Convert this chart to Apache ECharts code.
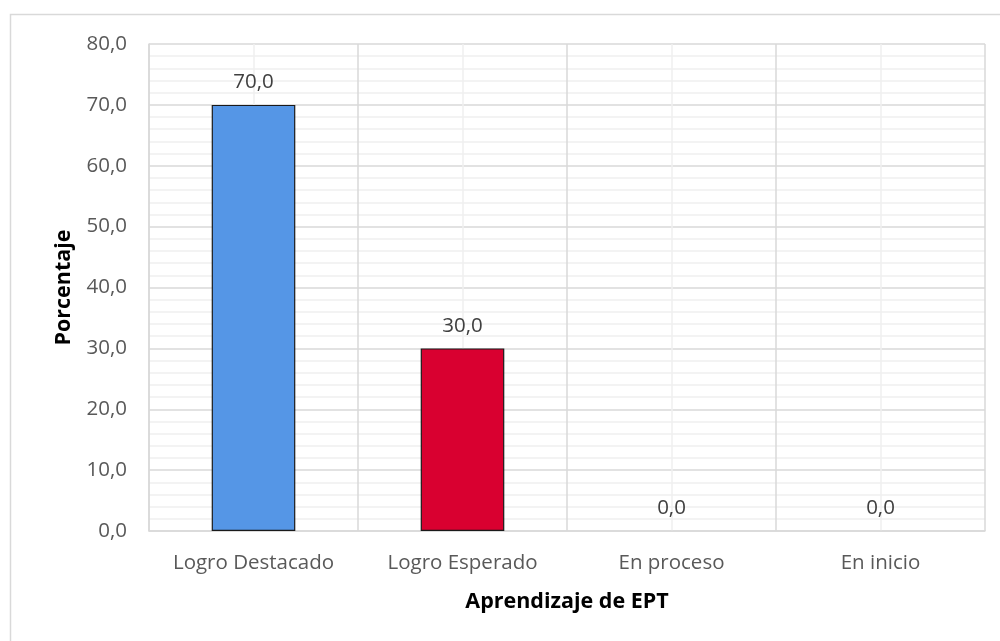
<!DOCTYPE html>
<html>
<head>
<meta charset="utf-8">
<script src="https://cdn.jsdelivr.net/npm/echarts@6/dist/echarts.min.js"></script>
<style>
    html, body { margin: 0; padding: 0; background: #ffffff; }
    #chart { width: 1000px; height: 641px; }
</style>
</head>
<body>
<div id="chart"></div>
<script>
var categories = ['Logro Destacado', 'Logro Esperado', 'En proceso', 'En inicio'];
var percentages = [70.0, 30.0, 0.0, 0.0];
var barColors = ['#5596e6', '#d90030', '#5596e6', '#d90030'];
var yTicks = [0, 10, 20, 30, 40, 50, 60, 70, 80];

(function () {
    'use strict';

    var chart = echarts.init(document.getElementById('chart'), null, { renderer: 'canvas' });
    var font = '"Open Sans", "Liberation Sans", sans-serif';

    function comma(v) {
        return Number(v).toFixed(1).replace('.', ',');
    }

    chart.setOption({
        animation: false,
        backgroundColor: '#ffffff',
        graphic: [{
            type: 'rect',
            shape: { x: 10.5, y: 14.5, width: 1000, height: 700 },
            style: { fill: 'none', stroke: '#d9d9d9', lineWidth: 1.5 },
            silent: true
        }],
        grid: { left: 149, right: 15, top: 44, bottom: 110, containLabel: false },
        xAxis: [{
            type: 'category',
            data: categories,
            name: 'Aprendizaje de EPT',
            nameLocation: 'middle',
            nameGap: 60,
            nameTextStyle: { fontFamily: font, fontSize: 21.5, fontWeight: 'bold', color: '#000000' },
            axisLine: { show: true, lineStyle: { color: '#d9d9d9', width: 1.5 } },
            axisTick: { show: false },
            axisLabel: { interval: 0, margin: 22, fontFamily: font, fontSize: 20.5, color: '#595959' },
            splitLine: { show: false }
        }, {
            type: 'value',
            min: 0,
            max: 4,
            interval: 1,
            show: true,
            position: 'bottom',
            axisLine: { show: false },
            axisTick: { show: false },
            axisLabel: { show: false },
            splitLine: { show: true, lineStyle: { color: '#d9d9d9', width: 1.5 } },
            minorTick: { show: false, splitNumber: 2 },
            minorSplitLine: { show: true, lineStyle: { color: '#f0f0f0', width: 1.5 } }
        }],
        yAxis: {
            type: 'value',
            min: yTicks[0],
            max: yTicks[yTicks.length - 1],
            interval: 10,
            name: 'Porcentaje',
            nameLocation: 'middle',
            nameGap: 74,
            nameTextStyle: { fontFamily: font, fontSize: 21.5, fontWeight: 'bold', color: '#000000' },
            axisLine: { show: true, lineStyle: { color: '#d9d9d9', width: 1.5 } },
            axisTick: { show: false },
            axisLabel: {
                margin: 22,
                fontFamily: font,
                fontSize: 20.5,
                color: '#595959',
                formatter: comma
            },
            splitLine: { show: true, lineStyle: { color: '#d9d9d9', width: 1.5 } },
            minorTick: { show: false, splitNumber: 5 },
            minorSplitLine: { show: true, lineStyle: { color: '#f0f0f0', width: 1.5 } }
        },
        series: [{
            type: 'bar',
            xAxisIndex: 0,
            barWidth: '40%',
            data: percentages.map(function (v, i) {
                return {
                    value: v,
                    itemStyle: {
                        color: barColors[i],
                        borderColor: '#1a1a1a',
                        borderWidth: v > 0 ? 1.2 : 0,
                        opacity: v > 0 ? 1 : 0
                    }
                };
            }),
            label: {
                show: true,
                position: 'top',
                distance: 12,
                fontFamily: font,
                fontSize: 20.5,
                color: '#404040',
                opacity: 1,
                formatter: function (p) { return comma(p.value); }
            }
        }]
    });
})();
</script>
</body>
</html>
